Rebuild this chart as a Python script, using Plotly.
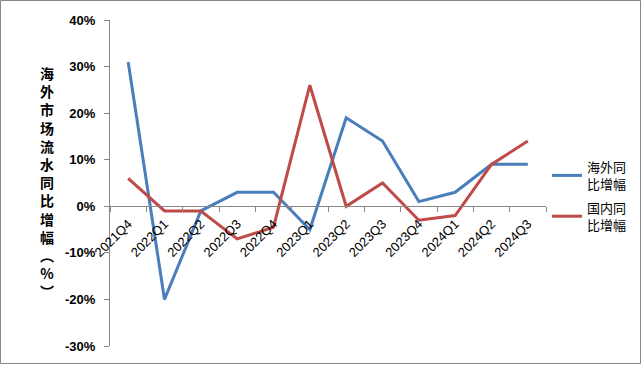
import plotly.graph_objects as go

quarters = ["2021Q4", "2022Q1", "2022Q2", "2022Q3", "2022Q4", "2023Q1",
            "2023Q2", "2023Q3", "2023Q4", "2024Q1", "2024Q2", "2024Q3"]
overseas = [0.31, -0.20, -0.01, 0.03, 0.03, -0.05, 0.19, 0.14, 0.01, 0.03, 0.09, 0.09]
domestic = [0.06, -0.01, -0.01, -0.07, -0.045, 0.26, 0.00, 0.05, -0.03, -0.02, 0.09, 0.14]
series_names = ["海外同<br>比增幅", "国内同<br>比增幅"]
y_title = "海外市场流水同比增幅︵%︶"
y_tickvals = [-0.3, -0.2, -0.1, 0.0, 0.1, 0.2, 0.3, 0.4]
y_ticktext = ["-30%", "-20%", "-10%", "0%", "10%", "20%", "30%", "40%"]

W, H = 642, 365
L, R, T, B = 110, 96, 20, 19
pw, ph = W - L - R, H - T - B

fig = go.Figure()
fig.add_trace(go.Scatter(x=quarters, y=overseas, mode="lines", name=series_names[0],
                         legendgroup="a", line=dict(color="#4A7EBB", width=3)))
fig.add_trace(go.Scatter(x=quarters, y=domestic, mode="lines", name=series_names[1],
                         legendgroup="b", line=dict(color="#BE4B48", width=3)))

ymin, ymax = -0.3, 0.4
zero_pos = (0 - ymin) / (ymax - ymin)

fig.update_layout(
    width=W, height=H,
    margin=dict(l=L, r=R, t=T, b=B, autoexpand=False),
    paper_bgcolor="white", plot_bgcolor="white",
    font=dict(family="Noto Sans CJK SC, Liberation Sans, sans-serif", color="black"),
    xaxis=dict(type="category", range=[-0.5, 11.5], anchor="free", position=zero_pos,
               showline=True, linecolor="#878787", linewidth=1,
               ticks="outside", tickson="boundaries", ticklen=5, tickcolor="#878787",
               tickangle=-45, ticklabelstandoff=4,
               tickfont=dict(size=13, family="Liberation Sans, Noto Sans CJK SC"),
               showgrid=False, zeroline=False, automargin=False),
    yaxis=dict(range=[ymin, ymax], tickmode="array", tickvals=y_tickvals, ticktext=y_ticktext,
               showline=True, linecolor="#878787", linewidth=1,
               ticks="outside", ticklen=5, tickcolor="#878787", ticklabelstandoff=6,
               tickfont=dict(size=13, family="Liberation Sans", weight="bold"),
               showgrid=False, zeroline=False, automargin=False),
    showlegend=True,
    legend=dict(x=(547 - L) / pw, y=(H - B - 196) / ph, xanchor="left", yanchor="middle",
                font=dict(size=13, family="Liberation Sans, Noto Sans CJK SC"),
                traceorder="grouped",
                itemwidth=30, tracegroupgap=4, bgcolor="rgba(0,0,0,0)", borderwidth=0),
)

fig.add_annotation(text="<br>".join(list(y_title)), xref="paper", yref="paper",
                   x=(47 - L) / pw, y=(H - B - 182) / ph, xanchor="center", yanchor="middle",
                   showarrow=False, font=dict(size=14, family="Noto Sans CJK SC", weight="bold"),
                   align="center")

fig.add_shape(type="rect", xref="paper", yref="paper",
              x0=(0.5 - L) / pw, x1=(W - 1.5 - L) / pw,
              y0=(H - B - (H - 1.5)) / ph, y1=(H - B - 0.5) / ph,
              line=dict(color="#868686", width=1), fillcolor="rgba(0,0,0,0)", layer="below")

fig.write_html("out.html", config={"displayModeBar": False},
               post_script="document.body.style.margin='0';document.body.style.overflow='hidden';")
